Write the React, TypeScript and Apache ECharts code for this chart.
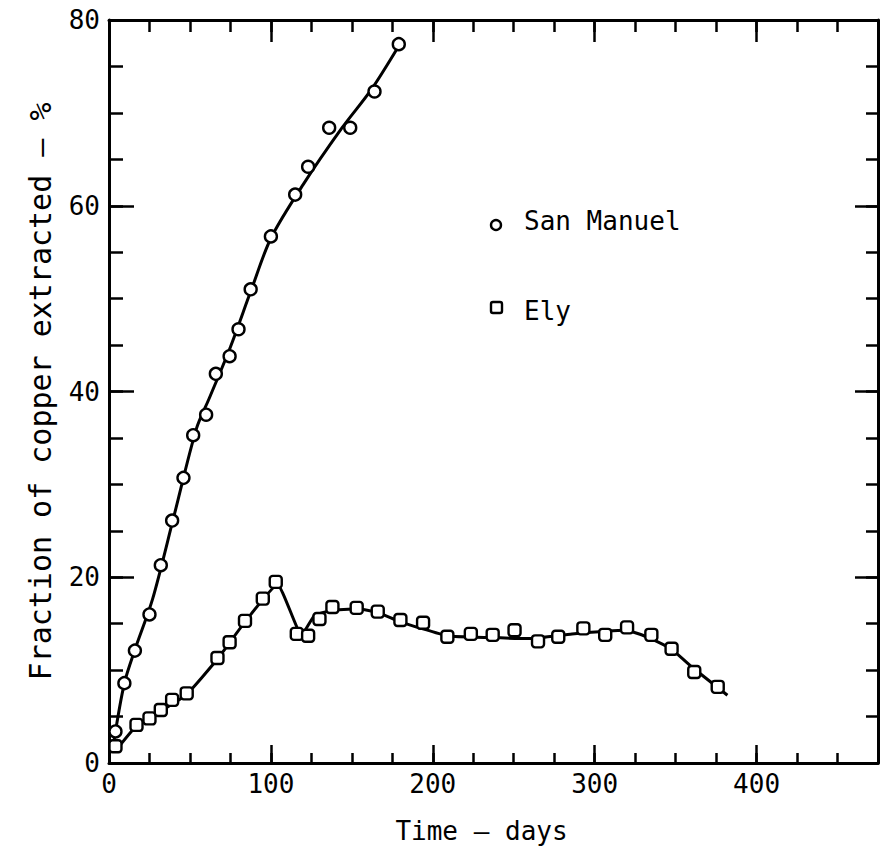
import React, { useEffect, useRef } from "react";
import * as echarts from "echarts";

// Measured points (days, % copper extracted)
const sanManuelDays = [4, 9.5, 16, 25, 32, 39, 46, 52, 60, 66, 74.5, 80, 87.5, 100, 115, 123, 136, 149, 164, 179];
const sanManuelPct = [3.4, 8.6, 12.1, 16, 21.3, 26.1, 30.7, 35.3, 37.5, 41.9, 43.8, 46.7, 51, 56.7, 61.2, 64.2, 68.4, 68.4, 72.3, 77.4];

const elyDays = [4, 17, 25, 32, 39, 48, 67, 74.5, 84, 95, 103, 116, 123, 130, 138, 153, 166, 180, 194, 209, 223.5, 237, 250.5, 265, 277.5, 293, 306.5, 320, 335, 347.5, 361.5, 376];
const elyPct = [1.8, 4.1, 4.8, 5.7, 6.8, 7.5, 11.3, 13.0, 15.3, 17.7, 19.5, 13.9, 13.7, 15.5, 16.8, 16.7, 16.3, 15.4, 15.1, 13.6, 13.9, 13.8, 14.3, 13.1, 13.6, 14.5, 13.8, 14.6, 13.8, 12.3, 9.8, 8.2];

// Hand-drawn curves through the data
const sanManuelCurveDays = [3, 9.5, 16, 27, 40, 54, 62, 75, 88, 100, 120, 144, 162, 180];
const sanManuelCurvePct = [2.3, 8.6, 12.2, 17.7, 26.5, 36, 39.3, 44.8, 51, 56.5, 62.3, 68.4, 72.5, 77.5];

const elyCurveDays = [4, 17, 32, 48, 67, 84, 104, 119, 127, 137, 153, 166, 180, 209, 235, 260, 286, 319, 332, 347, 361, 382];
const elyCurvePct = [1.3, 4.0, 5.6, 7.4, 11.2, 15.2, 19.2, 13.8, 15.9, 16.4, 16.6, 16.2, 15.2, 13.7, 13.5, 13.4, 13.9, 14.3, 13.6, 12.3, 10.2, 7.3];

const xTickLabels = [0, 100, 200, 300, 400];
const yTickLabels = [0, 20, 40, 60, 80];

const FONT = "'DejaVu Sans Mono', monospace";

const zip = (a: number[], b: number[]) => a.map((v, i) => [v, b[i]]);

export default function App() {
  const ref = useRef<HTMLDivElement>(null);
  useEffect(() => {
    if (!ref.current) return;
    const chart = echarts.init(ref.current, undefined, { renderer: "svg" });
    const line = { color: "#000", width: 3 };
    const tickLine = { color: "#000", width: 2.5 };
    const noLabel = { show: false };
    const noSplit = { show: false };
    const xBase = { type: "value", min: 0, max: 475, splitLine: noSplit, gridIndex: 0 };
    const yBase = { type: "value", min: 0, max: 80, splitLine: noSplit, gridIndex: 0 };
    chart.setOption({
      animation: false,
      backgroundColor: "#fff",
      grid: { left: 109, right: 10, top: 20, bottom: 97, containLabel: false, outerBoundsMode: "none" },
      xAxis: [
        {
          ...xBase,
          position: "bottom",
          interval: 100,
          axisLine: { show: true, onZero: false, lineStyle: line },
          axisTick: { show: true, inside: true, length: 18, lineStyle: tickLine },
          axisLabel: {
            show: true,
            margin: 8,
            fontSize: 26,
            color: "#000",
            fontFamily: FONT,
            formatter: (v: number) => (xTickLabels.includes(v) ? String(v) : ""),
          },
          name: "Time — days",
          nameLocation: "middle",
          nameGap: 55,
          nameTextStyle: { fontSize: 26, color: "#000", fontFamily: FONT, padding: [0, 24, 0, 0] },
        },
        {
          ...xBase,
          position: "bottom",
          interval: 25,
          axisLine: { show: false, onZero: false },
          axisTick: { show: true, inside: true, length: 10, lineStyle: tickLine },
          axisLabel: noLabel,
        },
        {
          ...xBase,
          position: "top",
          interval: 100,
          axisLine: { show: true, onZero: false, lineStyle: line },
          axisTick: { show: true, inside: true, length: 22, lineStyle: tickLine },
          axisLabel: noLabel,
        },
        {
          ...xBase,
          position: "top",
          interval: 25,
          axisLine: { show: false, onZero: false },
          axisTick: { show: true, inside: true, length: 12, lineStyle: tickLine },
          axisLabel: noLabel,
        },
      ],
      yAxis: [
        {
          ...yBase,
          position: "left",
          interval: 20,
          axisLine: { show: true, onZero: false, lineStyle: line },
          axisTick: { show: true, inside: true, length: 25, lineStyle: tickLine },
          axisLabel: {
            show: true,
            margin: 9,
            fontSize: 26,
            color: "#000",
            fontFamily: FONT,
            formatter: (v: number) => (yTickLabels.includes(v) ? String(v) : ""),
          },
          name: "Fraction of copper extracted — %",
          nameLocation: "middle",
          nameGap: 54,
          nameTextStyle: { fontSize: 30, color: "#000", fontFamily: FONT },
        },
        {
          ...yBase,
          position: "left",
          interval: 5,
          axisLine: { show: false, onZero: false },
          axisTick: { show: true, inside: true, length: 14, lineStyle: tickLine },
          axisLabel: noLabel,
        },
        {
          ...yBase,
          position: "right",
          interval: 20,
          axisLine: { show: true, onZero: false, lineStyle: line },
          axisTick: { show: true, inside: true, length: 23, lineStyle: tickLine },
          axisLabel: noLabel,
        },
        {
          ...yBase,
          position: "right",
          interval: 5,
          axisLine: { show: false, onZero: false },
          axisTick: { show: true, inside: true, length: 12, lineStyle: tickLine },
          axisLabel: noLabel,
        },
      ],
      graphic: [
        { type: "circle", shape: { cx: 496, cy: 225, r: 5 }, style: { fill: "#fff", stroke: "#000", lineWidth: 2.4 } },
        {
          type: "text",
          x: 524,
          y: 221,
          style: { text: "San Manuel", font: `26px ${FONT}`, fill: "#000", verticalAlign: "middle" },
        },
        { type: "rect", shape: { x: 491, y: 302, width: 11, height: 11, r: 2 }, style: { fill: "#fff", stroke: "#000", lineWidth: 2.4 } },
        {
          type: "text",
          x: 524,
          y: 311,
          style: { text: "Ely", font: `26px ${FONT}`, fill: "#000", verticalAlign: "middle" },
        },
      ],
      series: [
        {
          name: "San Manuel fit",
          type: "line",
          data: zip(sanManuelCurveDays, sanManuelCurvePct),
          showSymbol: false,
          smooth: 0.3,
          lineStyle: { color: "#000", width: 3 },
          z: 2,
        },
        {
          name: "Ely fit",
          type: "line",
          data: zip(elyCurveDays, elyCurvePct),
          showSymbol: false,
          smooth: 0.15,
          lineStyle: { color: "#000", width: 3 },
          z: 2,
        },
        {
          name: "San Manuel",
          type: "scatter",
          data: zip(sanManuelDays, sanManuelPct),
          symbol: "circle",
          symbolSize: 12,
          itemStyle: { color: "#fff", borderColor: "#000", borderWidth: 2.4, opacity: 1 },
          z: 3,
        },
        {
          name: "Ely",
          type: "scatter",
          data: zip(elyDays, elyPct),
          symbol: "roundRect",
          symbolSize: 12,
          itemStyle: { color: "#fff", borderColor: "#000", borderWidth: 2.4, opacity: 1 },
          z: 3,
        },
      ],
    });
    return () => chart.dispose();
  }, []);
  return (
    <div
      ref={ref}
      style={{ position: "absolute", left: 0, top: 0, width: 888, height: 860, background: "#fff" }}
    />
  );
}
